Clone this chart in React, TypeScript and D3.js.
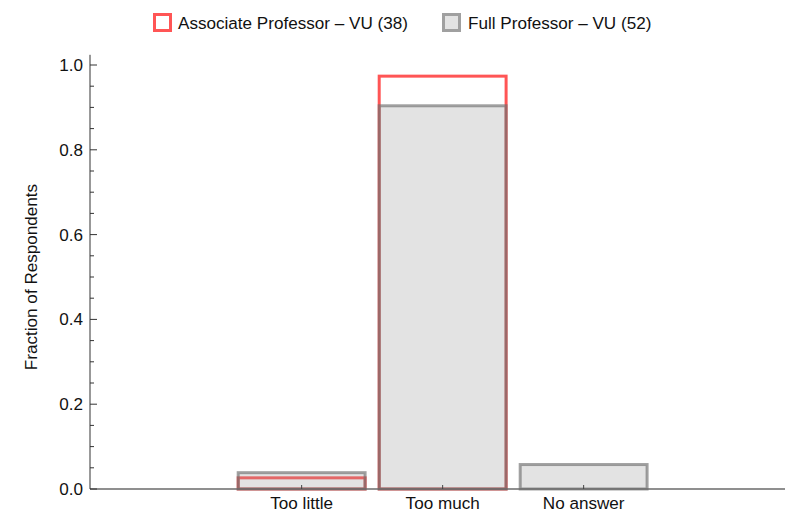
import React, { useEffect } from "react";
import * as d3 from "d3";

const categories = ["Too little", "Too much", "No answer"];
const seriesNames = ["Associate Professor – VU (38)", "Full Professor – VU (52)"];
const associateValues = [0.0263, 0.9737, 0.0];
const fullValues = [0.0385, 0.9038, 0.0577];
const yTicks = [0, 0.2, 0.4, 0.6, 0.8, 1.0];

const W = 785;
const H = 523;
const FONT = "'Liberation Sans', Arial, sans-serif";
const FS = 17.1;

export default function App() {
  useEffect(() => {
    document.body.style.margin = "0";
  }, []);

  const x = d3
    .scaleBand<string>()
    .domain(categories)
    .range([231.15, 654.15])
    .paddingInner(0.1)
    .paddingOuter(0.05);
  const y = d3.scaleLinear().domain([0, 1]).range([489, 65]);
  const axisX = 90;
  const minorTicks = d3.range(0, 1.0001, 0.05).filter((v) => Math.abs(v * 5 - Math.round(v * 5)) > 1e-6);

  const red = "#ff5555";
  const grayStroke = "rgba(110,110,110,0.65)";
  const grayFill = "rgba(150,150,150,0.27)";

  return (
    <svg width={W} height={H} style={{ display: "block" }} fontFamily={FONT}>
      <rect width={W} height={H} fill="#fff" />
      {/* Associate bars */}
      {categories.map((c, i) => (
        <rect
          key={"a" + c}
          x={x(c)}
          y={y(associateValues[i])}
          width={x.bandwidth()}
          height={y(0) - y(associateValues[i])}
          fill="rgba(255,255,255,0.6)"
          stroke={red}
          strokeWidth={3}
        />
      ))}
      {/* Full professor bars */}
      {categories.map((c, i) => (
        <rect
          key={"f" + c}
          x={x(c)}
          y={y(fullValues[i])}
          width={x.bandwidth()}
          height={y(0) - y(fullValues[i])}
          fill={grayFill}
          stroke={grayStroke}
          strokeWidth={3}
        />
      ))}
      {/* x axis */}
      <line x1={axisX} x2={W} y1={y(0)} y2={y(0)} stroke="#6a6a6a" strokeWidth={1.3} />
      {categories.map((c) => {
        const cx = (x(c) as number) + x.bandwidth() / 2;
        return (
          <g key={"xt" + c}>
            <line x1={cx} x2={cx} y1={y(0)} y2={y(0) - 4} stroke="#444" strokeWidth={1} />
            <text x={cx} y={509} textAnchor="middle" fontSize={FS} fill="#111">
              {c}
            </text>
          </g>
        );
      })}
      {/* y axis */}
      <line x1={axisX} x2={axisX} y1={y(0)} y2={y(1.024)} stroke="#333" strokeWidth={1} />
      {yTicks.map((t) => (
        <g key={"yt" + t}>
          <line x1={axisX} x2={axisX + 7} y1={y(t)} y2={y(t)} stroke="#333" strokeWidth={1} />
          <text x={83} y={y(t) + 6} textAnchor="end" fontSize={FS} fill="#111">
            {t.toFixed(1)}
          </text>
        </g>
      ))}
      {minorTicks.map((t) => (
        <line key={"mt" + t} x1={axisX} x2={axisX + 4} y1={y(t)} y2={y(t)} stroke="#333" strokeWidth={1} />
      ))}
      <text
        transform={`translate(37, ${(y(0) + y(1)) / 2}) rotate(-90)`}
        textAnchor="middle"
        fontSize={FS}
        fill="#111"
      >
        Fraction of Respondents
      </text>
      {/* legend */}
      <rect x={154.5} y={14.5} width={16} height={16} fill="#fff" stroke={red} strokeWidth={3} />
      <text x={178} y={28.5} fontSize={FS} fill="#111">
        {seriesNames[0]}
      </text>
      <rect x={443.5} y={14.5} width={16} height={16} fill="#e3e3e3" stroke="#a0a0a0" strokeWidth={3} />
      <text x={468} y={28.5} fontSize={FS} fill="#111">
        {seriesNames[1]}
      </text>
    </svg>
  );
}
